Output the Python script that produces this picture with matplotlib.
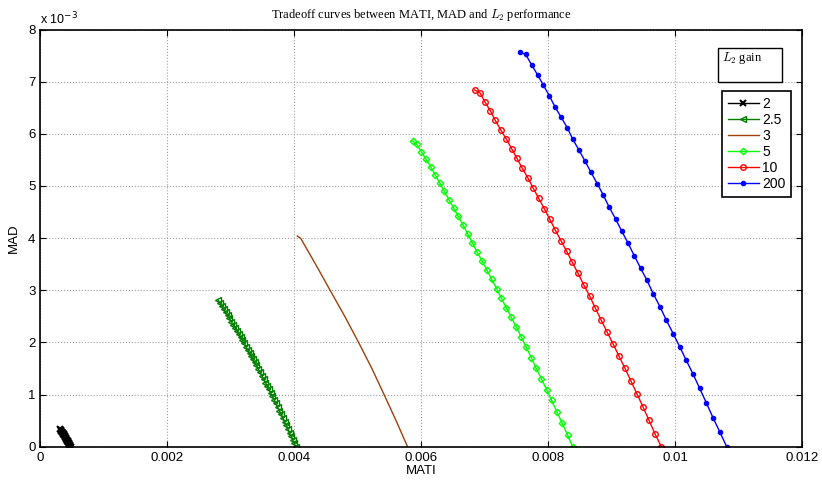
#importing the modules
import matplotlib
matplotlib.use("Agg")
import matplotlib.pyplot as plt
from matplotlib.patches import Rectangle

plt.rcParams['font.family'] = ['Liberation Sans', 'DejaVu Sans']
plt.rcParams['mathtext.fontset'] = 'cm'

# MATI values (x 1e-3) and MAD values (x 1e-3) for each L2 gain
gains = ['2', '2.5', '3', '5', '10', '200']

mati_2 = [0.318, 0.326, 0.334, 0.342, 0.350, 0.358, 0.366, 0.374, 0.382, 0.390,
          0.398, 0.406, 0.414, 0.422, 0.430, 0.438, 0.446, 0.454, 0.462, 0.470, 0.478]
mad_2 = [0.330, 0.314, 0.298, 0.282, 0.266, 0.250, 0.234, 0.218, 0.201, 0.185,
         0.168, 0.152, 0.135, 0.118, 0.101, 0.085, 0.068, 0.051, 0.034, 0.017, 0.000]

mati_25 = [2.802, 2.828, 2.858, 2.889, 2.919, 2.950, 2.979, 3.009, 3.039, 3.068,
           3.097, 3.126, 3.155, 3.183, 3.211, 3.239, 3.267, 3.295, 3.322, 3.349,
           3.376, 3.403, 3.434, 3.460, 3.491, 3.516, 3.546, 3.571, 3.601, 3.630,
           3.654, 3.683, 3.711, 3.739, 3.766, 3.794, 3.820, 3.847, 3.874, 3.900,
           3.925, 3.951, 3.976, 3.997, 4.022]
mad_25 = [2.81, 2.76, 2.70, 2.64, 2.58, 2.52, 2.46, 2.40, 2.34, 2.28,
          2.22, 2.16, 2.10, 2.04, 1.98, 1.92, 1.86, 1.80, 1.74, 1.68,
          1.62, 1.56, 1.49, 1.43, 1.36, 1.30, 1.23, 1.17, 1.10, 1.03,
          0.97, 0.90, 0.83, 0.76, 0.69, 0.62, 0.55, 0.48, 0.41, 0.34,
          0.27, 0.20, 0.13, 0.07, 0.00]

mati_3 = [4.047, 4.101, 4.335, 4.568, 4.795, 5.015, 5.222, 5.417, 5.603, 5.783]
mad_3 = [4.040, 3.996, 3.500, 2.991, 2.500, 1.994, 1.500, 0.991, 0.500, 0.000]

mati_5 = [5.865, 5.927, 6.000, 6.074, 6.148, 6.220, 6.294, 6.362, 6.436, 6.510,
          6.583, 6.657, 6.731, 6.803, 6.877, 6.956, 7.030, 7.109, 7.187, 7.260,
          7.339, 7.417, 7.496, 7.575, 7.654, 7.732, 7.811, 7.890, 7.975, 8.053,
          8.137, 8.220, 8.305, 8.384]
mad_5 = [5.862, 5.804, 5.657, 5.511, 5.369, 5.210, 5.051, 4.897, 4.736, 4.577,
         4.418, 4.251, 4.079, 3.912, 3.739, 3.567, 3.394, 3.210, 3.030, 2.851,
         2.665, 2.481, 2.295, 2.103, 1.906, 1.707, 1.503, 1.304, 1.093, 0.890,
         0.665, 0.449, 0.224, 0.000]

mati_10 = [6.841, 6.924, 7.003, 7.087, 7.165, 7.250, 7.339, 7.424, 7.507, 7.591,
           7.680, 7.764, 7.849, 7.937, 8.022, 8.110, 8.200, 8.290, 8.378, 8.468,
           8.558, 8.652, 8.740, 8.830, 8.924, 9.019, 9.113, 9.208, 9.302, 9.397,
           9.491, 9.586, 9.680, 9.780]
mad_10 = [6.840, 6.788, 6.610, 6.443, 6.259, 6.078, 5.900, 5.714, 5.530, 5.338,
          5.152, 4.955, 4.763, 4.564, 4.366, 4.155, 3.950, 3.747, 3.536, 3.325,
          3.106, 2.890, 2.660, 2.435, 2.205, 1.975, 1.739, 1.503, 1.260, 1.011,
          0.767, 0.506, 0.249, 0.000]

mati_200 = [7.554, 7.644, 7.739, 7.833, 7.921, 8.016, 8.105, 8.200, 8.299, 8.384,
            8.483, 8.578, 8.672, 8.772, 8.866, 8.961, 9.061, 9.156, 9.255, 9.354,
            9.455, 9.554, 9.653, 9.759, 9.858, 9.968, 10.069, 10.173, 10.279, 10.384,
            10.488, 10.594, 10.704, 10.809]
mad_200 = [7.563, 7.524, 7.319, 7.127, 6.936, 6.730, 6.520, 6.322, 6.117, 5.900,
           5.689, 5.478, 5.262, 5.043, 4.826, 4.590, 4.366, 4.136, 3.906, 3.662,
           3.421, 3.191, 2.934, 2.685, 2.429, 2.167, 1.918, 1.657, 1.394, 1.120,
           0.844, 0.556, 0.276, 0.000]

x_ticks = [0, 2, 4, 6, 8, 10, 12]
x_tick_labels = ['0', '0.002', '0.004', '0.006', '0.008', '0.01', '0.012']
y_ticks = [0, 1, 2, 3, 4, 5, 6, 7, 8]

#Making the figure
fig = plt.figure(figsize=(8.22, 4.83), dpi=100)
ax = fig.add_axes([0.049, 0.0752, 0.927, 0.8637])

ax.plot(mati_2, mad_2, color='black', marker='x', markersize=4, markeredgewidth=1.5,
        linewidth=1, label=gains[0])
ax.plot(mati_25, mad_25, color='#007f00', marker='<', markersize=5, markerfacecolor='none',
        linewidth=1, label=gains[1])
ax.plot(mati_3, mad_3, color='#a0400a', linewidth=1, label=gains[2])
ax.plot(mati_5, mad_5, color='#00ff00', marker='D', markersize=3.3, markerfacecolor='none',
        linewidth=1, label=gains[3])
ax.plot(mati_10, mad_10, color='red', marker='o', markersize=4, markerfacecolor='none',
        linewidth=1, label=gains[4])
ax.plot(mati_200, mad_200, color='blue', marker='o', markersize=3, linewidth=1, label=gains[5])

#Setting the limits and ticks
ax.set_xlim(0, 12)
ax.set_ylim(0, 8)
ax.set_xticks(x_ticks)
ax.set_xticklabels(x_tick_labels)
ax.set_yticks(y_ticks)
ax.tick_params(direction='in', top=True, right=True, labelsize=9.5, length=4)
ax.grid(True, linestyle=':', color='#a0a0a0', linewidth=0.8)
for s in ax.spines.values():
    s.set_linewidth(1.2)

ax.set_xlabel('MATI', fontsize=9.5, labelpad=1)
ax.set_ylabel('MAD', fontsize=9.5, labelpad=6)
ax.set_title(r'Tradeoff curves between MATI, MAD and $L_2$ performance',
             fontsize=9, family='Liberation Serif', pad=8)
ax.text(0.0, 1.005, r'x 10$^{-3}$', transform=ax.transAxes, fontsize=9,
        ha='left', va='bottom', math_fontfamily='dejavusans')

#legend box
leg = ax.legend(loc='upper left', bbox_to_anchor=(0.8946, 0.8526), borderaxespad=0,
                fontsize=10, handlelength=2.3, handletextpad=0.2, labelspacing=0.15,
                borderpad=0.4, fancybox=False, framealpha=1)
leg.get_frame().set_edgecolor('black')
leg.get_frame().set_linewidth(1.2)

#the L2 gain label box
ax.add_patch(Rectangle((0.889, 0.874), 0.084, 0.082, transform=ax.transAxes,
                       facecolor='white', edgecolor='black', linewidth=1, zorder=5))
ax.text(0.894, 0.950, r'$L_2$ gain', transform=ax.transAxes, fontsize=9,
        family='Liberation Serif', ha='left', va='top', zorder=6)

fig.savefig('out.png', dpi=100)
